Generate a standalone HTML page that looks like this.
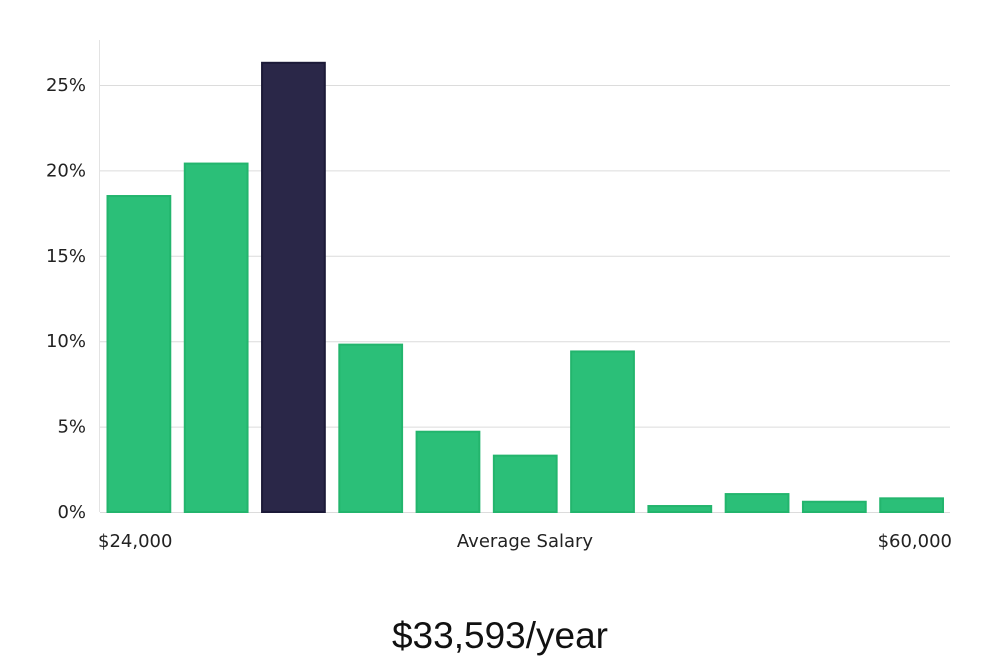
<!DOCTYPE html>
<html><head><meta charset="utf-8"><style>
body{margin:0;background:#fff;width:1000px;height:660px;overflow:hidden;font-family:"DejaVu Sans","Liberation Sans",sans-serif;}
svg{display:block}
</style></head><body>
<svg width="1000" height="660">
<g id="grid"></g>
<g id="bars"></g>
<g id="yticks"></g>
<line x1="99.5" y1="40" x2="99.5" y2="512" stroke="#e3e3e3"/>
<text x="98" y="547" font-size="18" fill="#222">$24,000</text>
<text x="525" y="547" font-size="18" fill="#222" text-anchor="middle">Average Salary</text>
<text x="952" y="547" font-size="18" fill="#222" text-anchor="end">$60,000</text>
<text x="500" y="648" font-size="37" fill="#111" text-anchor="middle" font-family="Liberation Sans, sans-serif">$33,593/year</text>
</svg>
<script>
const values=[18.5,20.4,26.3,9.8,4.7,3.3,9.4,0.35,1.05,0.6,0.8];
const highlightIndex=2;
const yTicks=[0,5,10,15,20,25];
const ns="http://www.w3.org/2000/svg";
const x0=100,x1=950,y0=512,pxPer=17.08;
const y=v=>y0-v*pxPer;
const step=(x1-x0)/values.length;
const g=document.getElementById('grid'),b=document.getElementById('bars'),t=document.getElementById('yticks');
yTicks.forEach(v=>{
 const l=document.createElementNS(ns,'line');
 
 
 l.setAttribute('x1',x0);l.setAttribute('x2',x1);l.setAttribute('y1',y(v)+0.5);l.setAttribute('y2',y(v)+0.5);
 l.setAttribute('stroke','#dcdcdc');g.appendChild(l);
 const tx=document.createElementNS(ns,'text');
 
 
 tx.setAttribute('x',86);tx.setAttribute('y',y(v)+6);tx.setAttribute('text-anchor','end');
 tx.setAttribute('font-size','18');tx.setAttribute('fill','#222');tx.textContent=v+'%';t.appendChild(tx);
});
values.forEach((v,i)=>{
 const r=document.createElementNS(ns,'rect');
 
 
 const hl=i===highlightIndex;
 r.setAttribute('x',x0+i*step+7.5);r.setAttribute('width',step-14.5);
 r.setAttribute('y',y(v));r.setAttribute('height',v*pxPer);
 r.setAttribute('fill',hl?'#2a2748':'#2bbf78');
 r.setAttribute('stroke',hl?'#1c1a38':'#23b56d');r.setAttribute('stroke-width','2');
 b.appendChild(r);
});
</script>
</body></html>
